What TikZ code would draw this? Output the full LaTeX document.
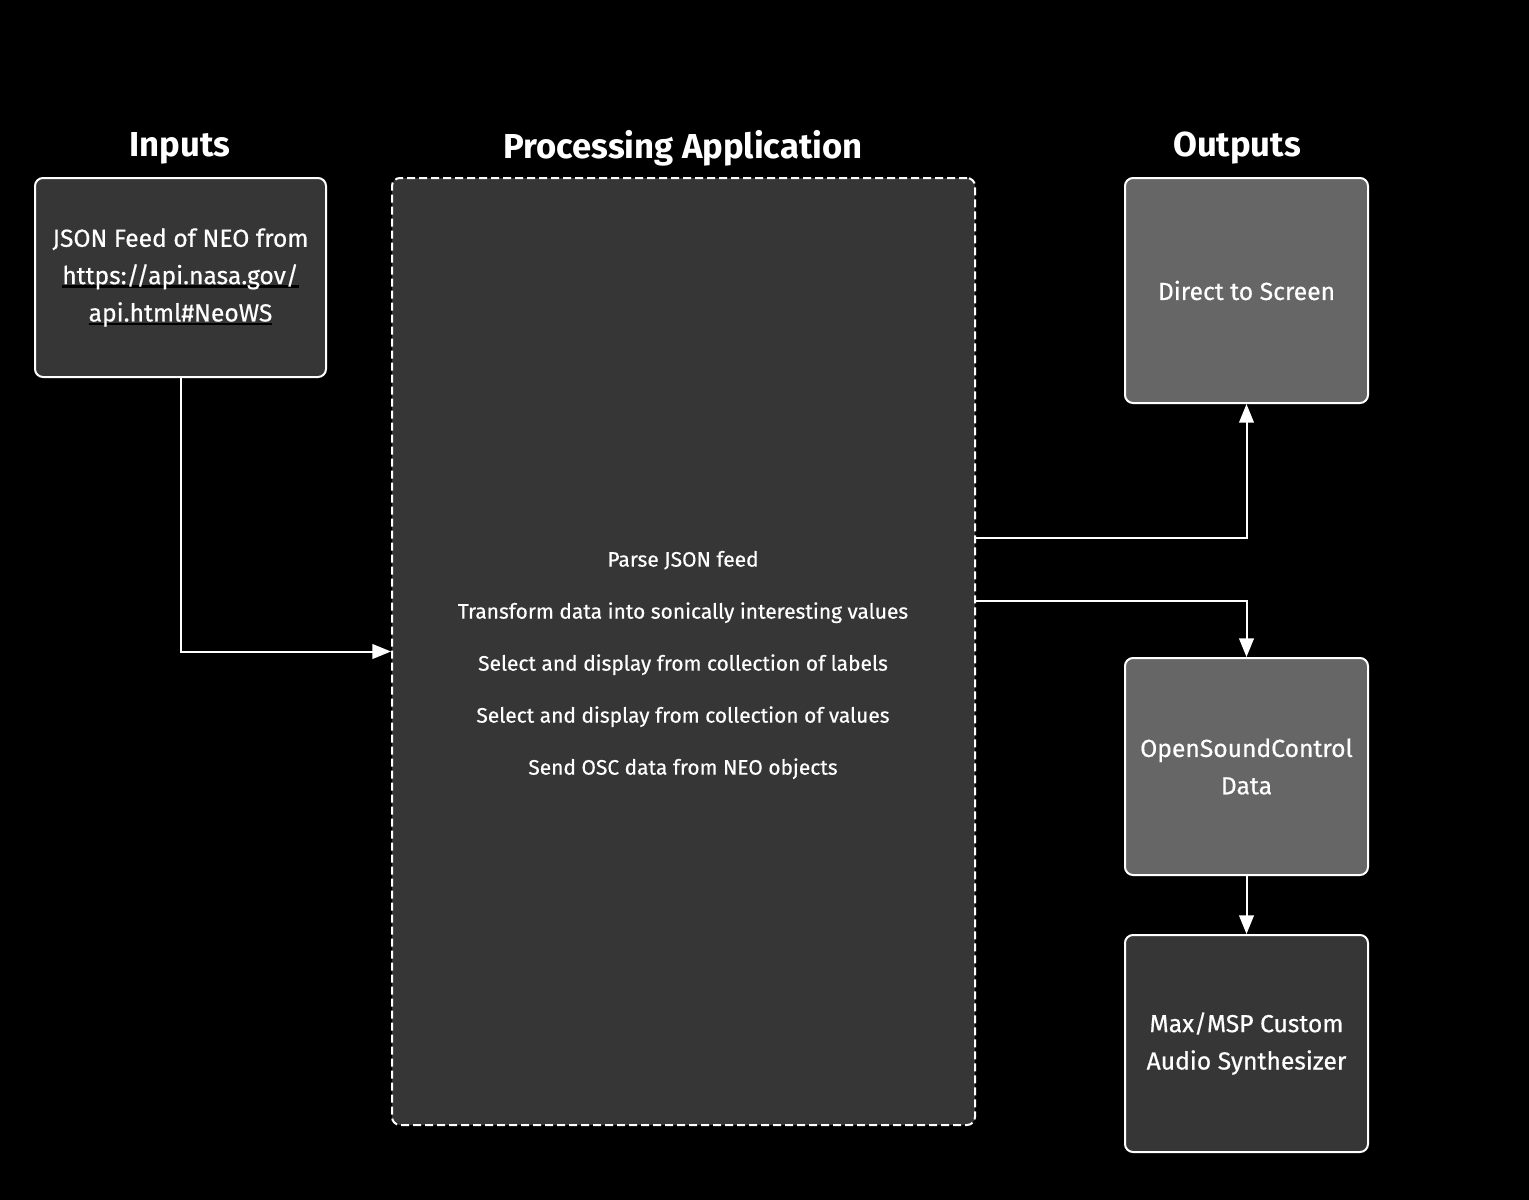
\documentclass[tikz,border=0pt]{standalone}
\usepackage{fontspec}
\setmainfont{Fira Sans}
\newfontfamily\medfont{Fira Sans}[FakeBold=0.5]
\usetikzlibrary{arrows.meta}
\definecolor{boxdark}{HTML}{363636}
\definecolor{boxgray}{HTML}{666666}
\usepackage{calc}
\newcommand{\blkul}[1]{\mbox{\rlap{\color{black}\rule[-2.8pt]{\widthof{#1}}{1.8pt}}#1}}
\begin{document}
\begin{tikzpicture}[x=0.75pt,y=-0.75pt,
  box/.style={draw=white,line width=1.5pt,rounded corners=6pt,align=center,text=white,
    font=\medfont\fontsize{18.5}{28}\selectfont},
  title/.style={text=white,font=\fontsize{26}{30}\selectfont\bfseries},
  arr/.style={draw=white,line width=1.5pt,-{Triangle[width=11pt,length=14pt]}},
  steptext/.style={text=white,align=center,font=\medfont\fontsize{15.7}{39}\selectfont}]
\fill[black] (0,0) rectangle (1529,1200);
\useasboundingbox (0,0) rectangle (1529,1200);
\node[title] (tin) at (180,148) {Inputs};
\node[title] (tproc) at (683,148) {Processing Application};
\node[title] (tout) at (1237,148) {Outputs};
\node[box,fill=boxdark,minimum width=218.25pt,minimum height=149.25pt] (inp) at (180.5,277.5)
  {JSON Feed of NEO from\\ \blkul{https://api.nasa.gov/}\\ \blkul{api.html\#NeoWS}};
\node[box,fill=boxdark,dashed,dash pattern=on 6pt off 3pt,rounded corners=6pt,minimum width=437.25pt,minimum height=710.25pt] (proc) at (683.5,651.5) {};
\node[steptext] (steps) at (683,665) {Parse JSON feed\\Transform data into sonically interesting values\\Select and display from collection of labels\\Select and display from collection of values\\Send OSC data from NEO objects};
\node[box,fill=boxgray,minimum width=182.25pt,minimum height=168.75pt] (scr) at (1246.5,290.5) {Direct to Screen};
\node[box,fill=boxgray,minimum width=182.25pt,minimum height=162.75pt] (osc) at (1246.5,766.5) {OpenSoundControl\\Data};
\node[box,fill=boxdark,minimum width=182.25pt,minimum height=162.75pt] (max) at (1246.5,1043.5) {Max/MSP Custom\\Audio Synthesizer};
\coordinate (y1) at (0,538);
\coordinate (y2) at (0,601);
\draw[arr] (inp.south) |- (proc.west);
\draw[arr] (proc.east |- y1) -| (scr.south);
\draw[arr] (proc.east |- y2) -| (osc.north);
\draw[arr] (osc.south) -- (max.north);
\end{tikzpicture}
\end{document}
